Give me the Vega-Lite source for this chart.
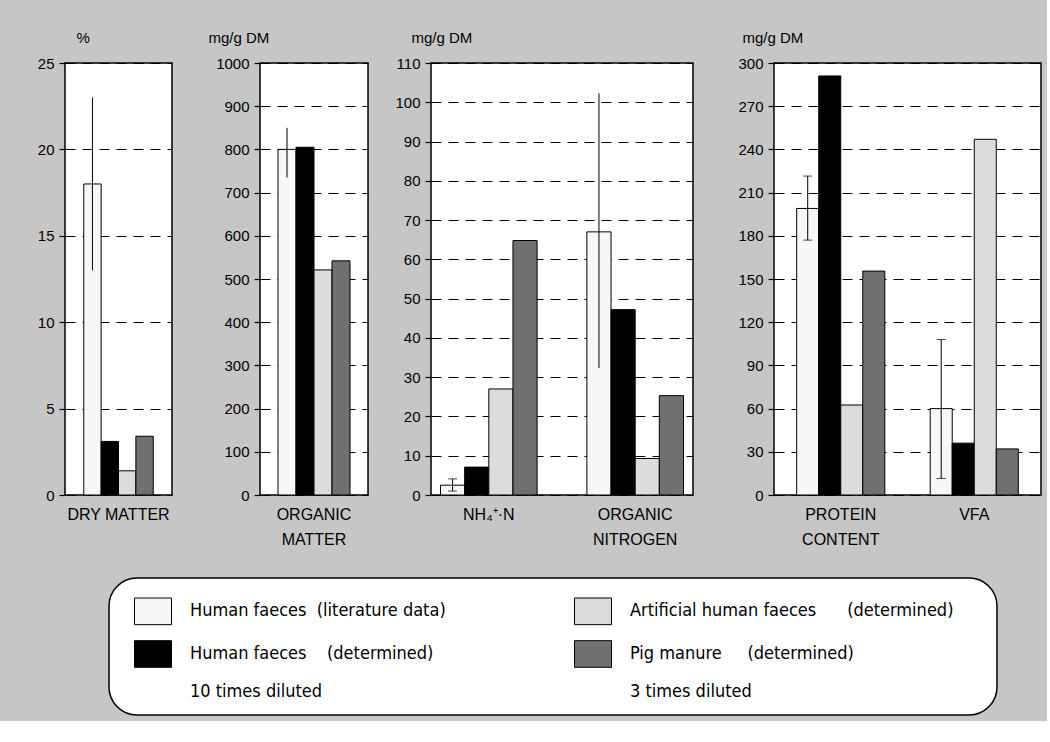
{
  "$schema": "https://vega.github.io/schema/vega-lite/v6.json",
  "background": "#c6c6c6",
  "padding": {"left": 36, "top": 29, "right": 5, "bottom": 5},
  "datasets": {
    "bars": [
      {"panel": 1, "cat": "DRY MATTER", "series": "Human faeces (literature data)", "value": 18},
      {"panel": 1, "cat": "DRY MATTER", "series": "Human faeces 10 times diluted (determined)", "value": 3.1},
      {"panel": 1, "cat": "DRY MATTER", "series": "Artificial human faeces (determined)", "value": 1.4},
      {"panel": 1, "cat": "DRY MATTER", "series": "Pig manure 3 times diluted (determined)", "value": 3.4},
      {"panel": 2, "cat": "ORGANIC|MATTER", "series": "Human faeces (literature data)", "value": 800},
      {"panel": 2, "cat": "ORGANIC|MATTER", "series": "Human faeces 10 times diluted (determined)", "value": 805},
      {"panel": 2, "cat": "ORGANIC|MATTER", "series": "Artificial human faeces (determined)", "value": 521},
      {"panel": 2, "cat": "ORGANIC|MATTER", "series": "Pig manure 3 times diluted (determined)", "value": 542},
      {"panel": 3, "cat": "NH₄⁺·N", "series": "Human faeces (literature data)", "value": 2.5},
      {"panel": 3, "cat": "NH₄⁺·N", "series": "Human faeces 10 times diluted (determined)", "value": 7.1},
      {"panel": 3, "cat": "NH₄⁺·N", "series": "Artificial human faeces (determined)", "value": 27},
      {"panel": 3, "cat": "NH₄⁺·N", "series": "Pig manure 3 times diluted (determined)", "value": 64.8},
      {"panel": 3, "cat": "ORGANIC|NITROGEN", "series": "Human faeces (literature data)", "value": 67},
      {"panel": 3, "cat": "ORGANIC|NITROGEN", "series": "Human faeces 10 times diluted (determined)", "value": 47.2},
      {"panel": 3, "cat": "ORGANIC|NITROGEN", "series": "Artificial human faeces (determined)", "value": 9.3},
      {"panel": 3, "cat": "ORGANIC|NITROGEN", "series": "Pig manure 3 times diluted (determined)", "value": 25.3},
      {"panel": 4, "cat": "PROTEIN|CONTENT", "series": "Human faeces (literature data)", "value": 199},
      {"panel": 4, "cat": "PROTEIN|CONTENT", "series": "Human faeces 10 times diluted (determined)", "value": 291},
      {"panel": 4, "cat": "PROTEIN|CONTENT", "series": "Artificial human faeces (determined)", "value": 62.5},
      {"panel": 4, "cat": "PROTEIN|CONTENT", "series": "Pig manure 3 times diluted (determined)", "value": 155.5},
      {"panel": 4, "cat": "VFA", "series": "Human faeces (literature data)", "value": 60},
      {"panel": 4, "cat": "VFA", "series": "Human faeces 10 times diluted (determined)", "value": 36},
      {"panel": 4, "cat": "VFA", "series": "Artificial human faeces (determined)", "value": 247},
      {"panel": 4, "cat": "VFA", "series": "Pig manure 3 times diluted (determined)", "value": 32}
    ],
    "errs": [
      {"panel": 1, "cat": "DRY MATTER", "series": "Human faeces (literature data)", "lo": 13, "hi": 23},
      {"panel": 2, "cat": "ORGANIC|MATTER", "series": "Human faeces (literature data)", "lo": 735, "hi": 850},
      {"panel": 3, "cat": "NH₄⁺·N", "series": "Human faeces (literature data)", "lo": 1.0, "hi": 4.1},
      {"panel": 3, "cat": "ORGANIC|NITROGEN", "series": "Human faeces (literature data)", "lo": 32.3, "hi": 102.3},
      {"panel": 4, "cat": "PROTEIN|CONTENT", "series": "Human faeces (literature data)", "lo": 177, "hi": 221.5},
      {"panel": 4, "cat": "VFA", "series": "Human faeces (literature data)", "lo": 11.5, "hi": 108}
    ]
  },
  "hconcat": [
    {
      "hconcat": [
        {
          "width": 107, "height": 432,
          "layer": [
            {
              "data": {"name": "bars"},
              "transform": [{"filter": "datum.panel == 1"}],
              "mark": {"type": "bar", "stroke": "black", "strokeWidth": 1},
              "encoding": {
                "x": {"field": "cat", "type": "nominal", "sort": null, "title": null, "scale": {"paddingInner": 0, "paddingOuter": 0.27}},
                "xOffset": {"field": "series", "type": "nominal", "sort": null, "scale": {"domain": ["Human faeces (literature data)", "Human faeces 10 times diluted (determined)", "Artificial human faeces (determined)", "Pig manure 3 times diluted (determined)"], "paddingInner": 0, "paddingOuter": 0}},
                "y": {"field": "value", "type": "quantitative", "title": "%", "scale": {"domain": [0, 25], "nice": false}, "axis": {"values": [0, 5, 10, 15, 20, 25], "titleX": 11}},
                "fill": {
                  "field": "series", "type": "nominal",
                  "scale": {"domain": ["Human faeces (literature data)", "Human faeces 10 times diluted (determined)", "Artificial human faeces (determined)", "Pig manure 3 times diluted (determined)"], "range": ["#f7f7f7", "#000000", "#dcdcdc", "#707070"]},
                  "legend": {
                    "labelExpr": "datum.label == 'Human faeces (literature data)' ? 'Human faeces\u00a0\u00a0(literature data)' : datum.label == 'Artificial human faeces (determined)' ? 'Artificial human faeces\u00a0\u00a0\u00a0\u00a0\u00a0\u00a0(determined)\u00a0\u2800\u2800' : datum.label == 'Human faeces 10 times diluted (determined)' ? ['Human faeces\u00a0\u00a0\u00a0\u00a0(determined)', '10 times diluted'] : ['Pig manure\u00a0\u00a0\u00a0\u00a0\u00a0(determined)', '3 times diluted']"
                  }
                }
              }
            },
            {
              "data": {"name": "errs"},
              "transform": [{"filter": "datum.panel == 1"}],
              "mark": {"type": "rule", "color": "black", "strokeWidth": 1},
              "encoding": {
                "x": {"field": "cat", "type": "nominal", "sort": null, "title": null},
                "xOffset": {"field": "series", "type": "nominal", "sort": null},
                "y": {"field": "lo", "type": "quantitative", "title": "%", "axis": {"values": [0, 5, 10, 15, 20, 25], "titleX": 11}},
                "y2": {"field": "hi"}
              }
            }
          ]
        },
        {
          "width": 108, "height": 432,
          "layer": [
            {
              "data": {"name": "bars"},
              "transform": [{"filter": "datum.panel == 2"}],
              "mark": {"type": "bar", "stroke": "black", "strokeWidth": 1},
              "encoding": {
                "x": {"field": "cat", "type": "nominal", "sort": null, "title": null, "scale": {"paddingInner": 0, "paddingOuter": 0.25}},
                "xOffset": {"field": "series", "type": "nominal", "sort": null, "scale": {"domain": ["Human faeces (literature data)", "Human faeces 10 times diluted (determined)", "Artificial human faeces (determined)", "Pig manure 3 times diluted (determined)"], "paddingInner": 0, "paddingOuter": 0}},
                "y": {"field": "value", "type": "quantitative", "title": "mg/g DM", "scale": {"domain": [0, 1000], "nice": false}, "axis": {"values": [0, 100, 200, 300, 400, 500, 600, 700, 800, 900, 1000], "format": "d", "titleX": -52}},
                "fill": {"field": "series", "type": "nominal"}
              }
            },
            {
              "data": {"name": "errs"},
              "transform": [{"filter": "datum.panel == 2"}],
              "mark": {"type": "rule", "color": "black", "strokeWidth": 1},
              "encoding": {
                "x": {"field": "cat", "type": "nominal", "sort": null, "title": null},
                "xOffset": {"field": "series", "type": "nominal", "sort": null},
                "y": {"field": "lo", "type": "quantitative", "title": "mg/g DM", "axis": {"values": [0, 100, 200, 300, 400, 500, 600, 700, 800, 900, 1000], "format": "d", "titleX": -52}},
                "y2": {"field": "hi"}
              }
            }
          ]
        }
      ],
      "spacing": 88,
      "bounds": "flush",
      "resolve": {"scale": {"x": "independent", "y": "independent", "xOffset": "independent", "fill": "shared"}}
    },
    {
      "hconcat": [
        {
          "width": 262, "height": 432,
          "layer": [
            {
              "data": {"name": "bars"},
              "transform": [{"filter": "datum.panel == 3"}],
              "mark": {"type": "bar", "stroke": "black", "strokeWidth": 1},
              "encoding": {
                "x": {"field": "cat", "type": "nominal", "sort": null, "title": null, "scale": {"paddingInner": 0.34, "paddingOuter": 0.065}},
                "xOffset": {"field": "series", "type": "nominal", "sort": null, "scale": {"domain": ["Human faeces (literature data)", "Human faeces 10 times diluted (determined)", "Artificial human faeces (determined)", "Pig manure 3 times diluted (determined)"], "paddingInner": 0, "paddingOuter": 0}},
                "y": {"field": "value", "type": "quantitative", "title": "mg/g DM", "scale": {"domain": [0, 110], "nice": false}, "axis": {"values": [0, 10, 20, 30, 40, 50, 60, 70, 80, 90, 100, 110], "labelOverlap": false, "titleX": -20}},
                "fill": {"field": "series", "type": "nominal"}
              }
            },
            {
              "data": {"name": "errs"},
              "transform": [{"filter": "datum.panel == 3"}],
              "mark": {"type": "rule", "color": "black", "strokeWidth": 1},
              "encoding": {
                "x": {"field": "cat", "type": "nominal", "sort": null, "title": null},
                "xOffset": {"field": "series", "type": "nominal", "sort": null},
                "y": {"field": "lo", "type": "quantitative", "title": "mg/g DM", "axis": {"values": [0, 10, 20, 30, 40, 50, 60, 70, 80, 90, 100, 110], "labelOverlap": false, "titleX": -20}},
                "y2": {"field": "hi"}
              }
            },
            {
              "data": {"name": "errs"},
              "transform": [{"filter": "datum.panel == 3 && datum.cat == 'NH₄⁺·N'"}, {"fold": ["lo", "hi"], "as": ["end", "v"]}],
              "mark": {"type": "tick", "color": "black", "size": 9, "thickness": 1},
              "encoding": {
                "x": {"field": "cat", "type": "nominal", "sort": null, "title": null},
                "xOffset": {"field": "series", "type": "nominal", "sort": null},
                "y": {"field": "v", "type": "quantitative", "title": "mg/g DM", "axis": {"values": [0, 10, 20, 30, 40, 50, 60, 70, 80, 90, 100, 110], "labelOverlap": false, "titleX": -20}}
              }
            }
          ]
        },
        {
          "width": 267, "height": 432,
          "layer": [
            {
              "data": {"name": "bars"},
              "transform": [{"filter": "datum.panel == 4"}],
              "mark": {"type": "bar", "stroke": "black", "strokeWidth": 1},
              "encoding": {
                "x": {"field": "cat", "type": "nominal", "sort": null, "title": null, "scale": {"paddingInner": 0.34, "paddingOuter": 0.17}},
                "xOffset": {"field": "series", "type": "nominal", "sort": null, "scale": {"domain": ["Human faeces (literature data)", "Human faeces 10 times diluted (determined)", "Artificial human faeces (determined)", "Pig manure 3 times diluted (determined)"], "paddingInner": 0, "paddingOuter": 0}},
                "y": {"field": "value", "type": "quantitative", "title": "mg/g DM", "scale": {"domain": [0, 300], "nice": false}, "axis": {"values": [0, 30, 60, 90, 120, 150, 180, 210, 240, 270, 300], "titleX": -32}},
                "fill": {"field": "series", "type": "nominal"}
              }
            },
            {
              "data": {"name": "errs"},
              "transform": [{"filter": "datum.panel == 4"}],
              "mark": {"type": "rule", "color": "black", "strokeWidth": 1},
              "encoding": {
                "x": {"field": "cat", "type": "nominal", "sort": null, "title": null},
                "xOffset": {"field": "series", "type": "nominal", "sort": null},
                "y": {"field": "lo", "type": "quantitative", "title": "mg/g DM", "axis": {"values": [0, 30, 60, 90, 120, 150, 180, 210, 240, 270, 300], "titleX": -32}},
                "y2": {"field": "hi"}
              }
            },
            {
              "data": {"name": "errs"},
              "transform": [{"filter": "datum.panel == 4"}, {"fold": ["lo", "hi"], "as": ["end", "v"]}],
              "mark": {"type": "tick", "color": "black", "size": 9, "thickness": 1},
              "encoding": {
                "x": {"field": "cat", "type": "nominal", "sort": null, "title": null},
                "xOffset": {"field": "series", "type": "nominal", "sort": null},
                "y": {"field": "v", "type": "quantitative", "title": "mg/g DM", "axis": {"values": [0, 30, 60, 90, 120, 150, 180, 210, 240, 270, 300], "titleX": -32}}
              }
            }
          ]
        }
      ],
      "spacing": 81,
      "bounds": "flush",
      "resolve": {"scale": {"x": "independent", "y": "independent", "xOffset": "independent", "fill": "shared"}}
    }
  ],
  "spacing": 25,
  "bounds": "full",
  "resolve": {"scale": {"x": "independent", "y": "independent", "xOffset": "independent", "fill": "shared"}},
  "config": {
    "font": "Liberation Sans",
    "view": {"fill": "white", "stroke": "black", "strokeWidth": 1.5},
    "style": {"guide-label": {"lineHeight": 38}},
    "axisX": {
      "ticks": false, "domain": false, "grid": false, "labelAngle": 0,
      "labelFont": "Liberation Sans", "labelFontSize": 16, "labelColor": "black", "labelPadding": 11,
      "labelLineHeight": 25, "labelBaseline": "top",
      "labelExpr": "split(datum.value, '|')"
    },
    "axisY": {
      "grid": true, "gridColor": "black", "gridDash": [10, 7], "gridWidth": 1.2,
      "domain": false, "ticks": true, "tickColor": "black", "tickSize": 6, "tickWidth": 1.2,
      "labelFont": "Liberation Sans", "labelFontSize": 15, "labelColor": "black", "labelPadding": 5,
      "titleAngle": 0, "titleAlign": "left", "titleBaseline": "middle", "titleY": -26,
      "titleFont": "Liberation Sans", "titleFontSize": 15, "titleFontWeight": "normal", "titleColor": "black"
    },
    "legend": {
      "orient": "none", "legendX": 44, "legendY": 515,
      "columns": 2, "direction": "vertical", "title": null,
      "symbolType": "M-1,-0.72H1V0.72H-1Z", "symbolSize": 1369, "symbolOffset": 11,
      "symbolStrokeColor": "black", "symbolStrokeWidth": 1,
      "labelFont": "DejaVu Sans Condensed, Liberation Sans, sans-serif", "labelFontSize": 18, "labelColor": "black",
      "labelLimit": 600, "labelOffset": 18,
      "columnPadding": 117, "rowPadding": 8,
      "padding": 14, "strokeColor": "black", "fillColor": "white", "cornerRadius": 28, "strokeWidth": 1.5
    }
  }
}
